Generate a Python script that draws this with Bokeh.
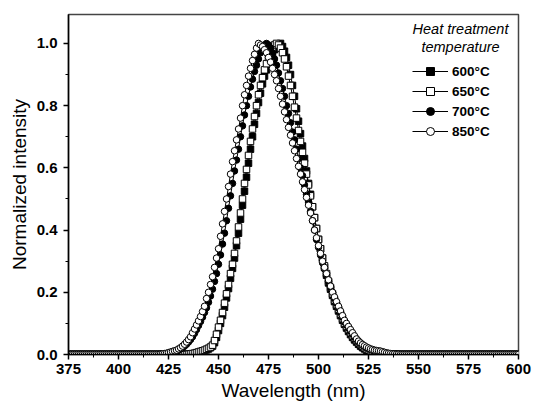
from bokeh.plotting import figure
from bokeh.models import (Range1d, Legend, LegendItem, Label, ColumnDataSource,
                          SingleIntervalTicker, FixedTicker, PrintfTickFormatter)
from bokeh.embed import file_html
from bokeh.resources import INLINE

# ---------------- data ----------------
WAVELENGTH_NM = list(range(375, 601))  # 1 nm steps

T600 = [
    0, 0, 0, 0, 0, 0, 0, 0, 0, 0,            # 375
    0, 0, 0, 0, 0, 0, 0, 0, 0, 0,            # 385
    0, 0, 0, 0, 0, 0, 0, 0, 0, 0,            # 395
    0, 0, 0, 0, 0, 0, 0, 0, 0, 0,            # 405
    0, 0, 0, 0, 0, 0, 0, 0, 0, 0,            # 415
    0, 0, 0, 0, 0, 0, 0, 0, 0, 0,            # 425
    0, 0.001, 0.002, 0.003, 0.004, 0.006, 0.008, 0.010, 0.012, 0.015,   # 435
    0.018, 0.022, 0.027, 0.038, 0.055, 0.077, 0.10, 0.125, 0.152, 0.182, # 445
    0.212, 0.245, 0.277, 0.31, 0.35, 0.39, 0.435, 0.48, 0.525, 0.57,     # 455
    0.615, 0.66, 0.70, 0.74, 0.775, 0.81, 0.84, 0.87, 0.895, 0.915,      # 465
    0.935, 0.95, 0.965, 0.98, 0.99, 0.997, 1.0, 0.99, 0.975, 0.955,      # 475
    0.93, 0.90, 0.865, 0.83, 0.79, 0.75, 0.71, 0.67, 0.63, 0.59,         # 485
    0.55, 0.515, 0.475, 0.44, 0.405, 0.37, 0.34, 0.31, 0.28, 0.255,      # 495
    0.23, 0.21, 0.19, 0.17, 0.155, 0.14, 0.125, 0.11, 0.097, 0.085,      # 505
    0.074, 0.064, 0.055, 0.047, 0.040, 0.033, 0.027, 0.022, 0.018, 0.014, # 515
    0.011, 0.009, 0.007, 0.005, 0.004, 0.003, 0.002, 0.001, 0.001, 0,   # 525
    0, 0, 0, 0, 0, 0, 0, 0, 0, 0,            # 535
    0, 0, 0, 0, 0, 0, 0, 0, 0, 0,            # 545
    0, 0, 0, 0, 0, 0, 0, 0, 0, 0,            # 555
    0, 0, 0, 0, 0, 0, 0, 0, 0, 0,            # 565
    0, 0, 0, 0, 0, 0, 0, 0, 0, 0,            # 575
    0, 0, 0, 0, 0, 0, 0, 0, 0, 0,            # 585
    0, 0, 0, 0, 0, 0,                        # 595
]

T650 = [
    0, 0, 0, 0, 0, 0, 0, 0, 0, 0,            # 375
    0, 0, 0, 0, 0, 0, 0, 0, 0, 0,            # 385
    0, 0, 0, 0, 0, 0, 0, 0, 0, 0,            # 395
    0, 0, 0, 0, 0, 0, 0, 0, 0, 0,            # 405
    0, 0, 0, 0, 0, 0, 0, 0, 0, 0,            # 415
    0, 0, 0, 0, 0, 0, 0, 0, 0, 0,            # 425
    0.001, 0.002, 0.003, 0.004, 0.006, 0.008, 0.010, 0.012, 0.014, 0.017, # 435
    0.020, 0.024, 0.030, 0.045, 0.065, 0.088, 0.11, 0.135, 0.165, 0.195, # 445
    0.225, 0.26, 0.29, 0.325, 0.365, 0.41, 0.455, 0.50, 0.55, 0.595,     # 455
    0.64, 0.685, 0.725, 0.765, 0.80, 0.835, 0.865, 0.89, 0.915, 0.935,   # 465
    0.955, 0.97, 0.985, 0.995, 1.0, 0.995, 0.985, 0.97, 0.95, 0.925,     # 475
    0.895, 0.865, 0.83, 0.795, 0.76, 0.72, 0.685, 0.65, 0.615, 0.58,     # 485
    0.545, 0.51, 0.475, 0.44, 0.405, 0.37, 0.34, 0.31, 0.285, 0.26,      # 495
    0.235, 0.215, 0.195, 0.175, 0.16, 0.145, 0.13, 0.115, 0.10, 0.09,    # 505
    0.08, 0.07, 0.06, 0.052, 0.045, 0.038, 0.032, 0.027, 0.022, 0.018,   # 515
    0.015, 0.012, 0.010, 0.008, 0.007, 0.006, 0.005, 0.004, 0.003, 0.002, # 525
    0.001, 0.001, 0, 0, 0, 0, 0, 0, 0, 0,    # 535
    0, 0, 0, 0, 0, 0, 0, 0, 0, 0,            # 545
    0, 0, 0, 0, 0, 0, 0, 0, 0, 0,            # 555
    0, 0, 0, 0, 0, 0, 0, 0, 0, 0,            # 565
    0, 0, 0, 0, 0, 0, 0, 0, 0, 0,            # 575
    0, 0, 0, 0, 0, 0, 0, 0, 0, 0,            # 585
    0, 0, 0, 0, 0, 0,                        # 595
]

T700 = [
    0, 0, 0, 0, 0, 0, 0, 0, 0, 0,            # 375
    0, 0, 0, 0, 0, 0, 0, 0, 0, 0,            # 385
    0, 0, 0, 0, 0, 0, 0, 0, 0, 0,            # 395
    0, 0, 0, 0, 0, 0, 0, 0, 0, 0,            # 405
    0, 0, 0, 0, 0, 0, 0, 0, 0.001, 0.002,    # 415
    0.003, 0.005, 0.007, 0.009, 0.011, 0.014, 0.018, 0.022, 0.027, 0.033, # 425
    0.040, 0.048, 0.057, 0.068, 0.080, 0.093, 0.106, 0.120, 0.135, 0.150, # 435
    0.168, 0.188, 0.21, 0.235, 0.26, 0.29, 0.32, 0.355, 0.39, 0.43,      # 445
    0.47, 0.51, 0.55, 0.59, 0.625, 0.66, 0.70, 0.735, 0.77, 0.80,        # 455
    0.83, 0.86, 0.885, 0.91, 0.93, 0.95, 0.97, 0.985, 0.995, 1.0,        # 465
    0.995, 0.985, 0.97, 0.95, 0.93, 0.905, 0.88, 0.855, 0.83, 0.80,      # 475
    0.775, 0.745, 0.715, 0.69, 0.66, 0.63, 0.60, 0.575, 0.545, 0.515,    # 485
    0.49, 0.46, 0.43, 0.40, 0.37, 0.345, 0.32, 0.295, 0.275, 0.255,      # 495
    0.235, 0.215, 0.20, 0.18, 0.165, 0.15, 0.135, 0.12, 0.105, 0.095,    # 505
    0.085, 0.075, 0.065, 0.055, 0.048, 0.041, 0.035, 0.030, 0.026, 0.022, # 515
    0.019, 0.016, 0.014, 0.012, 0.010, 0.009, 0.008, 0.006, 0.005, 0.004, # 525
    0.003, 0.002, 0.001, 0.001, 0, 0, 0, 0, 0, 0,  # 535
    0, 0, 0, 0, 0, 0, 0, 0, 0, 0,            # 545
    0, 0, 0, 0, 0, 0, 0, 0, 0, 0,            # 555
    0, 0, 0, 0, 0, 0, 0, 0, 0, 0,            # 565
    0, 0, 0, 0, 0, 0, 0, 0, 0, 0,            # 575
    0, 0, 0, 0, 0, 0, 0, 0, 0, 0,            # 585
    0, 0, 0, 0, 0, 0,                        # 595
]

T850 = [
    0, 0, 0, 0, 0, 0, 0, 0, 0, 0,            # 375
    0, 0, 0, 0, 0, 0, 0, 0, 0, 0,            # 385
    0, 0, 0, 0, 0, 0, 0, 0, 0, 0,            # 395
    0, 0, 0, 0, 0, 0, 0, 0, 0, 0,            # 405
    0, 0, 0, 0, 0, 0, 0.001, 0.002, 0.003, 0.004,  # 415
    0.006, 0.008, 0.010, 0.012, 0.014, 0.018, 0.022, 0.027, 0.033, 0.040, # 425
    0.048, 0.057, 0.070, 0.082, 0.095, 0.108, 0.122, 0.138, 0.155, 0.18,  # 435
    0.20, 0.225, 0.25, 0.28, 0.31, 0.34, 0.38, 0.42, 0.46, 0.50,         # 445
    0.54, 0.58, 0.62, 0.655, 0.69, 0.725, 0.76, 0.80, 0.835, 0.865,      # 455
    0.895, 0.92, 0.945, 0.965, 0.985, 1.0, 0.995, 0.99, 0.98, 0.97,      # 465
    0.955, 0.94, 0.92, 0.90, 0.88, 0.855, 0.83, 0.805, 0.78, 0.755,      # 475
    0.73, 0.705, 0.68, 0.655, 0.63, 0.605, 0.58, 0.555, 0.53, 0.505,     # 485
    0.48, 0.455, 0.43, 0.40, 0.375, 0.35, 0.325, 0.30, 0.28, 0.26,       # 495
    0.24, 0.22, 0.20, 0.185, 0.17, 0.155, 0.14, 0.125, 0.11, 0.10,       # 505
    0.09, 0.08, 0.07, 0.06, 0.05, 0.043, 0.037, 0.032, 0.028, 0.024,     # 515
    0.021, 0.018, 0.016, 0.014, 0.013, 0.012, 0.011, 0.009, 0.007, 0.005, # 525
    0.004, 0.003, 0.002, 0.002, 0.001, 0.001, 0, 0, 0, 0,  # 535
    0, 0, 0, 0, 0, 0, 0, 0, 0, 0,            # 545
    0, 0, 0, 0, 0, 0, 0, 0, 0, 0,            # 555
    0, 0, 0, 0, 0, 0, 0, 0, 0, 0,            # 565
    0, 0, 0, 0, 0, 0, 0, 0, 0, 0,            # 575
    0, 0, 0, 0, 0, 0, 0, 0, 0, 0,            # 585
    0, 0, 0, 0, 0, 0,                        # 595
]

SERIES_LABELS = ["600°C", "650°C", "700°C", "850°C"]
SERIES_VALUES = [T600, T650, T700, T850]
SERIES_MARKERS = ["square", "square", "circle", "circle"]
SERIES_FILLS = ["black", "white", "black", "white"]
LEGEND_TITLE = ["Heat treatment", "temperature"]
X_TICKS = [375, 400, 425, 450, 475, 500, 525, 550, 575, 600]
X_MINOR_TICKS = [387.5, 412.5, 437.5, 462.5, 487.5, 512.5, 537.5, 562.5, 587.5]

for v in SERIES_VALUES:
    assert len(v) == len(WAVELENGTH_NM), len(v)

# ---------------- figure ----------------
FONT = "Liberation Sans"
p = figure(width=534, height=403, output_backend="svg", toolbar_location=None,
           x_range=Range1d(375, 600), y_range=Range1d(0, 1.093),
           min_border_left=68, min_border_right=16, min_border_top=14, min_border_bottom=49)
p.background_fill_color = "white"
p.border_fill_color = "white"
p.xgrid.visible = False
p.ygrid.visible = False
p.outline_line_color = "#444444"
p.outline_line_width = 1.5

renderers = {}
for i in range(4):
    src = ColumnDataSource(dict(x=WAVELENGTH_NM, y=SERIES_VALUES[i]))
    ln = p.line("x", "y", source=src, line_color="black", line_width=1)
    sc = p.scatter("x", "y", source=src, marker=SERIES_MARKERS[i], size=6.5,
                   fill_color=SERIES_FILLS[i], line_color="black", line_width=1)
    renderers[i] = [ln, sc]
items = [LegendItem(label=SERIES_LABELS[i], renderers=renderers[i]) for i in range(4)]

legend = Legend(items=items, location=(344, 213), padding=0, spacing=0,
                glyph_width=36, glyph_height=20, label_height=20, label_standoff=4,
                border_line_color=None, background_fill_alpha=0,
                label_text_font=FONT, label_text_font_style="bold",
                label_text_font_size="13.5px", label_text_color="black")
p.add_layout(legend)

for txt, yv in zip(LEGEND_TITLE, [1.045, 0.99]):
    p.add_layout(Label(x=571, y=yv, text=txt, text_align="center", text_baseline="middle",
                       text_font=FONT, text_font_style="italic", text_font_size="14.5px",
                       text_color="black"))

# axes
p.xaxis.axis_label = "Wavelength (nm)"
p.yaxis.axis_label = "Normalized intensity"
p.yaxis.ticker = SingleIntervalTicker(interval=0.2, num_minor_ticks=2)
p.xaxis.ticker = FixedTicker(ticks=X_TICKS, minor_ticks=X_MINOR_TICKS)
for ax in (p.xaxis, p.yaxis):
    ax.axis_line_color = "black"
    ax.axis_line_width = 1.5
    ax.major_tick_line_color = "black"
    ax.major_tick_line_width = 1.5
    ax.minor_tick_line_color = "black"
    ax.minor_tick_line_width = 1
    ax.major_tick_in = 0
    ax.major_tick_out = 5
    ax.minor_tick_in = 0
    ax.minor_tick_out = 3
    ax.major_label_text_font = FONT
    ax.major_label_text_font_style = "bold"
    ax.major_label_text_font_size = "15px"
    ax.major_label_text_color = "black"
    ax.axis_label_text_font = FONT
    ax.axis_label_text_font_style = "normal"
    ax.axis_label_text_font_size = "19px"
    ax.axis_label_text_color = "black"
p.yaxis.formatter = PrintfTickFormatter(format="%.1f")
p.xaxis.major_label_standoff = 4
p.xaxis.axis_label_standoff = 3
p.yaxis.major_label_standoff = 6
p.yaxis.axis_label_standoff = 4

open("out.html", "w").write(file_html(p, INLINE))
